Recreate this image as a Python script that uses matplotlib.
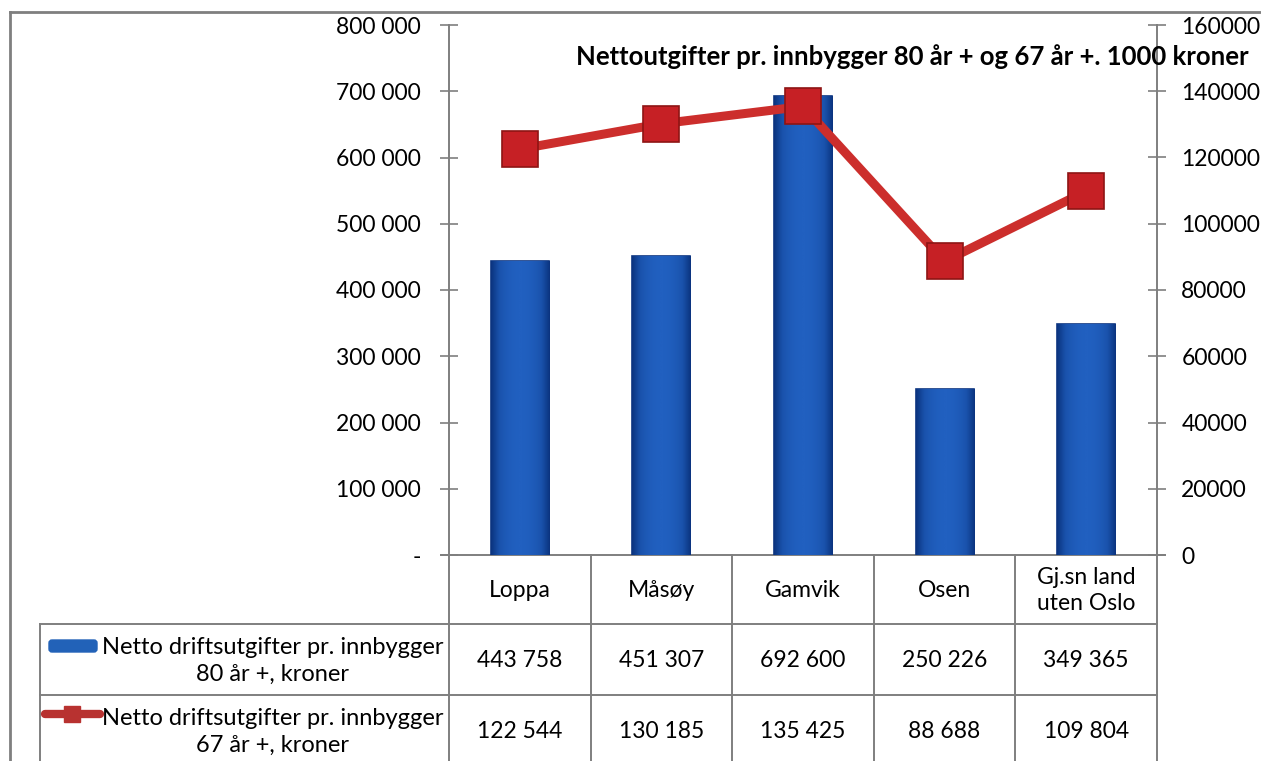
import matplotlib
matplotlib.use("Agg")
import matplotlib.pyplot as plt
import numpy as np
from matplotlib.ticker import FuncFormatter, MultipleLocator

plt.rcParams["font.family"] = ["Lato", "DejaVu Sans"]

# data
categories = ["Loppa", "Måsøy", "Gamvik", "Osen", "Gj.sn land\nuten Oslo"]
cost_80 = [443758, 451307, 692600, 250226, 349365]
cost_67 = [122544, 130185, 135425, 88688, 109804]
label_80 = "Netto driftsutgifter pr. innbygger\n80 år +, kroner"
label_67 = "Netto driftsutgifter pr. innbygger\n67 år +, kroner"
title = "Nettoutgifter pr. innbygger 80 år + og 67 år +. 1000 kroner"

W, H = 1261, 761
GRAY = "#7f7f7f"
BLUE = "#1d58b5"
RED = "#cc2e2c"
FS = 16.5

fig = plt.figure(figsize=(W / 100, H / 100), dpi=100)

# pixel layout of the plot area
px_left, px_right, px_top, px_bottom = 449, 1157, 25, 555
ax = fig.add_axes([px_left / W, 1 - px_bottom / H,
                   (px_right - px_left) / W, (px_bottom - px_top) / H])
ax.patch.set_alpha(0)

x = np.arange(len(categories))
bars = ax.bar(x, cost_80, width=0.41, color=BLUE, edgecolor="#0d3580",
              linewidth=1.2, zorder=2)

# horizontal gradient inside each bar
grad = np.linspace(0, 1, 64)
grad = np.vstack([1 - 4 * (grad - 0.5) ** 2] * 2)
cmap = matplotlib.colors.LinearSegmentedColormap.from_list(
    "bar", ["#0b3480", "#1a53ad", "#2160c0"])
for b in bars:
    im = ax.imshow(grad, cmap=cmap, aspect="auto", zorder=2.5,
                   extent=(b.get_x(), b.get_x() + b.get_width(), 0, b.get_height()))
    im.set_clip_path(b)

ax.set_xlim(-0.5, len(categories) - 0.5)
ax.set_ylim(0, 800000)
ax.yaxis.set_major_locator(MultipleLocator(100000))
ax.yaxis.set_major_formatter(FuncFormatter(
    lambda v, p: "-" if v == 0 else f"{int(v):,}".replace(",", " ")))
ax.set_xticks([])
for s in ["top", "right", "bottom"]:
    ax.spines[s].set_visible(False)
ax.spines["left"].set_color(GRAY)
ax.spines["left"].set_linewidth(1.4)
ax.tick_params(axis="y", direction="inout", length=13, width=1.2, color=GRAY,
               labelsize=FS, pad=14)

ax2 = ax.twinx()
ax2.plot(x, cost_67, color=RED, linewidth=6.5, marker="s", markersize=26,
         markerfacecolor="#c62025", markeredgecolor="#8e1414",
         markeredgewidth=1.2, zorder=3)
ax2.set_ylim(0, 160000)
ax2.yaxis.set_major_locator(MultipleLocator(20000))
ax2.yaxis.set_major_formatter(FuncFormatter(lambda v, p: f"{int(v)}"))
for s in ["top", "left", "bottom"]:
    ax2.spines[s].set_visible(False)
ax2.spines["right"].set_color(GRAY)
ax2.spines["right"].set_linewidth(1.4)
ax2.tick_params(axis="y", direction="inout", length=13, width=1.2, color=GRAY,
                labelsize=FS, pad=11)
ax2.set_xlim(-0.5, len(categories) - 0.5)

fig.text(912 / W, 1 - 57 / H, title, ha="center", va="center",
         fontsize=18.5, fontweight="bold", zorder=5)

# overlay in pixel coords: frame, axis line and data table
ov = fig.add_axes([0, 0, 1, 1], zorder=-1)
ov.set_xlim(0, W)
ov.set_ylim(H, 0)
ov.axis("off")

lw = 1.4
ov.plot([10, 10], [12, H], color=GRAY, lw=2)
ov.plot([10, W], [12, 12], color=GRAY, lw=2)
ov.plot([441, 1165], [px_bottom, px_bottom], color=GRAY, lw=lw)

n = len(categories)
col_w = (px_right - px_left) / n
col_edges = [px_left + i * col_w for i in range(n + 1)]
row_edges = [px_bottom, 624, 695, 766]
head_left = 40

for xe in col_edges:
    ov.plot([xe, xe], [px_bottom, H], color=GRAY, lw=lw)
ov.plot([head_left, head_left], [row_edges[1], H], color=GRAY, lw=lw)
for ye in row_edges[1:3]:
    ov.plot([head_left, px_right], [ye, ye], color=GRAY, lw=lw)

row_mid = [(row_edges[i] + row_edges[i + 1]) / 2 for i in range(3)]
for i, cat in enumerate(categories):
    cx = (col_edges[i] + col_edges[i + 1]) / 2
    ov.text(cx, row_mid[0] + 1, cat, ha="center", va="center", fontsize=FS,
            linespacing=1.3)
    ov.text(cx, row_mid[1] + 1, f"{cost_80[i]:,}".replace(",", " "),
            ha="center", va="center", fontsize=FS)
    ov.text(cx, row_mid[2] + 1, f"{cost_67[i]:,}".replace(",", " "),
            ha="center", va="center", fontsize=FS)

# row headers with legend keys
ov.text(273, row_mid[1] + 1, label_80, ha="center", va="center", fontsize=17,
        linespacing=1.35)
ov.text(273, row_mid[2] + 1, label_67, ha="center", va="center", fontsize=17,
        linespacing=1.35)
ov.add_patch(matplotlib.patches.FancyBboxPatch((49, 640), 48, 12,
             boxstyle="round,pad=0,rounding_size=3", color="#2262b8"))
ov.plot([45, 100], [714, 714], color="#b83230", lw=6, solid_capstyle="round")
ov.plot([72], [714], marker="s", markersize=11, color="#b83230")

fig.savefig("out.png", dpi=100)
